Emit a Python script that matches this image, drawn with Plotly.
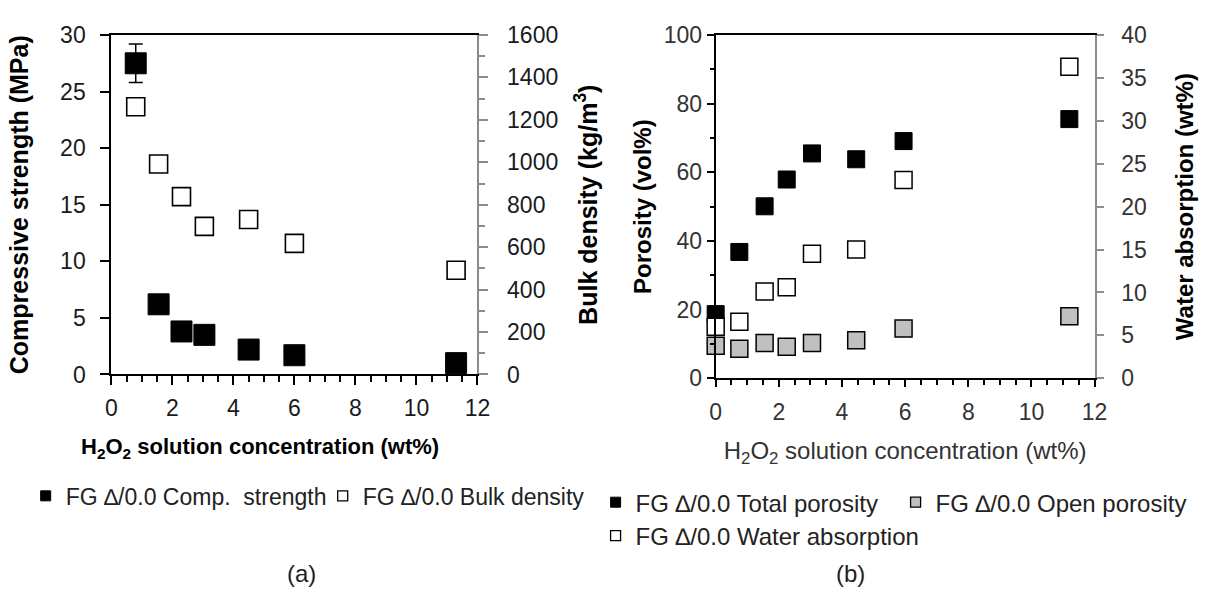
import plotly.graph_objects as go

# ---------- data (a) ----------
conc_a = [0.8, 1.55, 2.3, 3.05, 4.5, 6.0, 11.3]
comp_strength = [27.5, 6.2, 3.8, 3.5, 2.2, 1.7, 1.0]
comp_err = [1.7, 0.8, 0.3, 0.3, 0.2, 0.2, 0.1]
bulk_density = [1262, 992, 838, 698, 730, 618, 491]

# ---------- data (b) ----------
conc_b = [0.0, 0.75, 1.55, 2.25, 3.05, 4.45, 5.95, 11.2]
total_porosity = [18.7, 36.8, 50.1, 57.9, 65.5, 63.8, 69.1, 75.5]
open_porosity = [9.5, 8.6, 10.3, 9.2, 10.3, 11.1, 14.5, 18.1]
water_absorption = [6.0, 6.6, 10.1, 10.6, 14.5, 15.0, 23.1, 36.3]

names_a = ["FG \u2206/0.0 Comp.  strength", "FG \u2206/0.0 Bulk density"]
names_b = ["FG \u2206/0.0 Total porosity", "FG \u2206/0.0 Open porosity", "FG \u2206/0.0 Water absorption"]

x_title = "H<sub>2</sub>O<sub>2</sub> solution concentration (wt%)"
FONT = "Liberation Sans, Arial, sans-serif"
W, H = 1209, 594

def px_x(v):
    return v / W

def px_y(v):
    return 1 - v / H

fig = go.Figure()

# ---- panel (a) ----
fig.add_trace(go.Scatter(
    x=conc_a, y=comp_strength, mode="markers", name=names_a[0], showlegend=False,
    marker=dict(symbol="square", size=21, color="black", line=dict(color="black", width=1)),
    error_y=dict(type="data", array=comp_err, visible=True, color="black", thickness=1.5, width=7),
    xaxis="x", yaxis="y", cliponaxis=False))
fig.add_trace(go.Scatter(
    x=conc_a, y=bulk_density, mode="markers", name=names_a[1], showlegend=False,
    marker=dict(symbol="square", size=18, color="white", line=dict(color="black", width=1.6)),
    xaxis="x", yaxis="y2", cliponaxis=False))

# ---- panel (b) ----
fig.add_trace(go.Scatter(
    x=conc_b, y=total_porosity, mode="markers", name=names_b[0], showlegend=False,
    marker=dict(symbol="square", size=17, color="black", line=dict(color="black", width=1)),
    xaxis="x2", yaxis="y3", cliponaxis=False))
fig.add_trace(go.Scatter(
    x=conc_b, y=open_porosity, mode="markers", name=names_b[1], showlegend=False,
    marker=dict(symbol="square", size=17, color="#c0c0c0", line=dict(color="black", width=1.5)),
    xaxis="x2", yaxis="y3", cliponaxis=False))
fig.add_trace(go.Scatter(
    x=conc_b, y=water_absorption, mode="markers", name=names_b[2], showlegend=False,
    marker=dict(symbol="square", size=17, color="white", line=dict(color="black", width=1.5)),
    xaxis="x2", yaxis="y4", cliponaxis=False))

# ---- legend entries (small symbols like the reference) ----
leg_specs = [
    (names_a[0], "black", 1, "legend", "x", "y"),
    (names_a[1], "white", 1.3, "legend", "x", "y"),
    (names_b[0], "black", 1, "legend2", "x2", "y3"),
    (names_b[1], "#c0c0c0", 1.3, "legend2", "x2", "y3"),
    (names_b[2], "white", 1.3, "legend3", "x2", "y3"),
]
for nm, col, lw, lg, xa, ya in leg_specs:
    fig.add_trace(go.Scatter(
        x=[None], y=[None], mode="markers", name=nm, legend=lg, xaxis=xa, yaxis=ya,
        marker=dict(symbol="square", size=10, color=col, line=dict(color="black", width=lw)),
        hoverinfo="skip"))

tickfont_a = dict(family=FONT, size=23, color="#1a1a22")
tickfont_b = dict(family=FONT, size=23, color="#333333")

common_x = dict(range=[0, 12], dtick=2, showgrid=False, zeroline=False, showline=True,
                linecolor="black", linewidth=2, mirror=True, ticks="outside",
                tickcolor="black", tickwidth=1.5)

fig.update_layout(
    width=W, height=H, margin=dict(l=0, r=0, t=0, b=0),
    paper_bgcolor="white", plot_bgcolor="white",
    font=dict(family=FONT, color="black"),
    xaxis=dict(common_x, domain=[px_x(107), px_x(479)], anchor="y", ticklen=9,
               tickfont=tickfont_a, ticklabelstandoff=3,
               minor=dict(dtick=0.5, ticks="outside", ticklen=6, tickcolor="black", tickwidth=1.5)),
    yaxis=dict(range=[0, 30], dtick=5, domain=[px_y(378), px_y(23)], anchor="x",
               showgrid=False, zeroline=False, showline=True, linecolor="black", linewidth=2,
               ticks="outside", ticklen=9, tickcolor="black", tickwidth=1.5, tickfont=tickfont_a,
               ticklabelstandoff=10,
               title=dict(text="<b>Compressive strength (MPa)</b>", font=dict(family=FONT, size=25, color="black"), standoff=24)),
    yaxis2=dict(range=[0, 1600], dtick=200, overlaying="y", side="right", anchor="x",
                showgrid=False, zeroline=False, showline=True, linecolor="#8c8c8c", linewidth=2,
                ticks="outside", ticklen=9, tickcolor="#8c8c8c", tickwidth=1.5, tickfont=tickfont_a,
                ticklabelstandoff=14,
                minor=dict(dtick=100, ticks="outside", ticklen=6, tickcolor="#8c8c8c", tickwidth=1.5),
                title=dict(text="<b>Bulk density (kg/m<sup>3</sup>)</b>", font=dict(family=FONT, size=25, color="black"), standoff=22)),
    xaxis2=dict(common_x, domain=[px_x(721), px_x(1106)], anchor="y3", ticklen=7,
                tickfont=tickfont_b, ticklabelstandoff=5,
                minor=dict(dtick=0.5, ticks="outside", ticklen=5, tickcolor="black", tickwidth=1.5),
                title=dict(text=x_title, font=dict(family=FONT, size=24, color="#333333"), standoff=18)),
    yaxis3=dict(range=[0, 100], dtick=20, domain=[px_y(382), px_y(23)], anchor="x2",
                showgrid=False, zeroline=False, showline=True, linecolor="black", linewidth=2,
                ticks="outside", ticklen=7, tickcolor="black", tickwidth=1.5, tickfont=tickfont_b,
                minor=dict(dtick=10, ticks="outside", ticklen=4, tickcolor="black", tickwidth=1.5),
                title=dict(text="<b>Porosity (vol%)</b>", font=dict(family=FONT, size=24, color="black"), standoff=5)),
    yaxis4=dict(range=[0, 40], dtick=5, overlaying="y3", side="right", anchor="x2",
                showgrid=False, zeroline=False, showline=True, linecolor="#8c8c8c", linewidth=2,
                ticks="outside", ticklen=7, tickcolor="#8c8c8c", tickwidth=1.5, tickfont=tickfont_b,
                ticklabelstandoff=13,
                title=dict(text="<b>Water absorption (wt%)</b>", font=dict(family=FONT, size=24, color="black"), standoff=30)),
    legend=dict(orientation="h", x=px_x(20), y=px_y(505), xanchor="left", yanchor="middle",
                font=dict(family=FONT, size=23, color="#222"), itemsizing="trace",
                entrywidth=252, bgcolor="rgba(0,0,0,0)"),
    legend2=dict(orientation="h", x=px_x(599), y=px_y(512), xanchor="left", yanchor="middle",
                 font=dict(family=FONT, size=24, color="#222"), itemsizing="trace",
                 entrywidth=255, bgcolor="rgba(0,0,0,0)"),
    legend3=dict(orientation="h", x=px_x(599), y=px_y(547), xanchor="left", yanchor="middle",
                 font=dict(family=FONT, size=24, color="#222"), itemsizing="trace",
                 bgcolor="rgba(0,0,0,0)"),
    annotations=[
        dict(text="<b>" + x_title + "</b>", x=px_x(258), y=px_y(455), xref="paper", yref="paper",
             showarrow=False, xanchor="center", yanchor="middle",
             font=dict(family=FONT, size=22, color="black")),
        dict(text="(a)", x=px_x(300), y=px_y(586), xref="paper", yref="paper", showarrow=False,
             xanchor="center", yanchor="middle", font=dict(family=FONT, size=24, color="#222")),
        dict(text="(b)", x=px_x(858), y=px_y(586), xref="paper", yref="paper", showarrow=False,
             xanchor="center", yanchor="middle", font=dict(family=FONT, size=24, color="#222")),
    ],
)

fig.write_html("out.html")
